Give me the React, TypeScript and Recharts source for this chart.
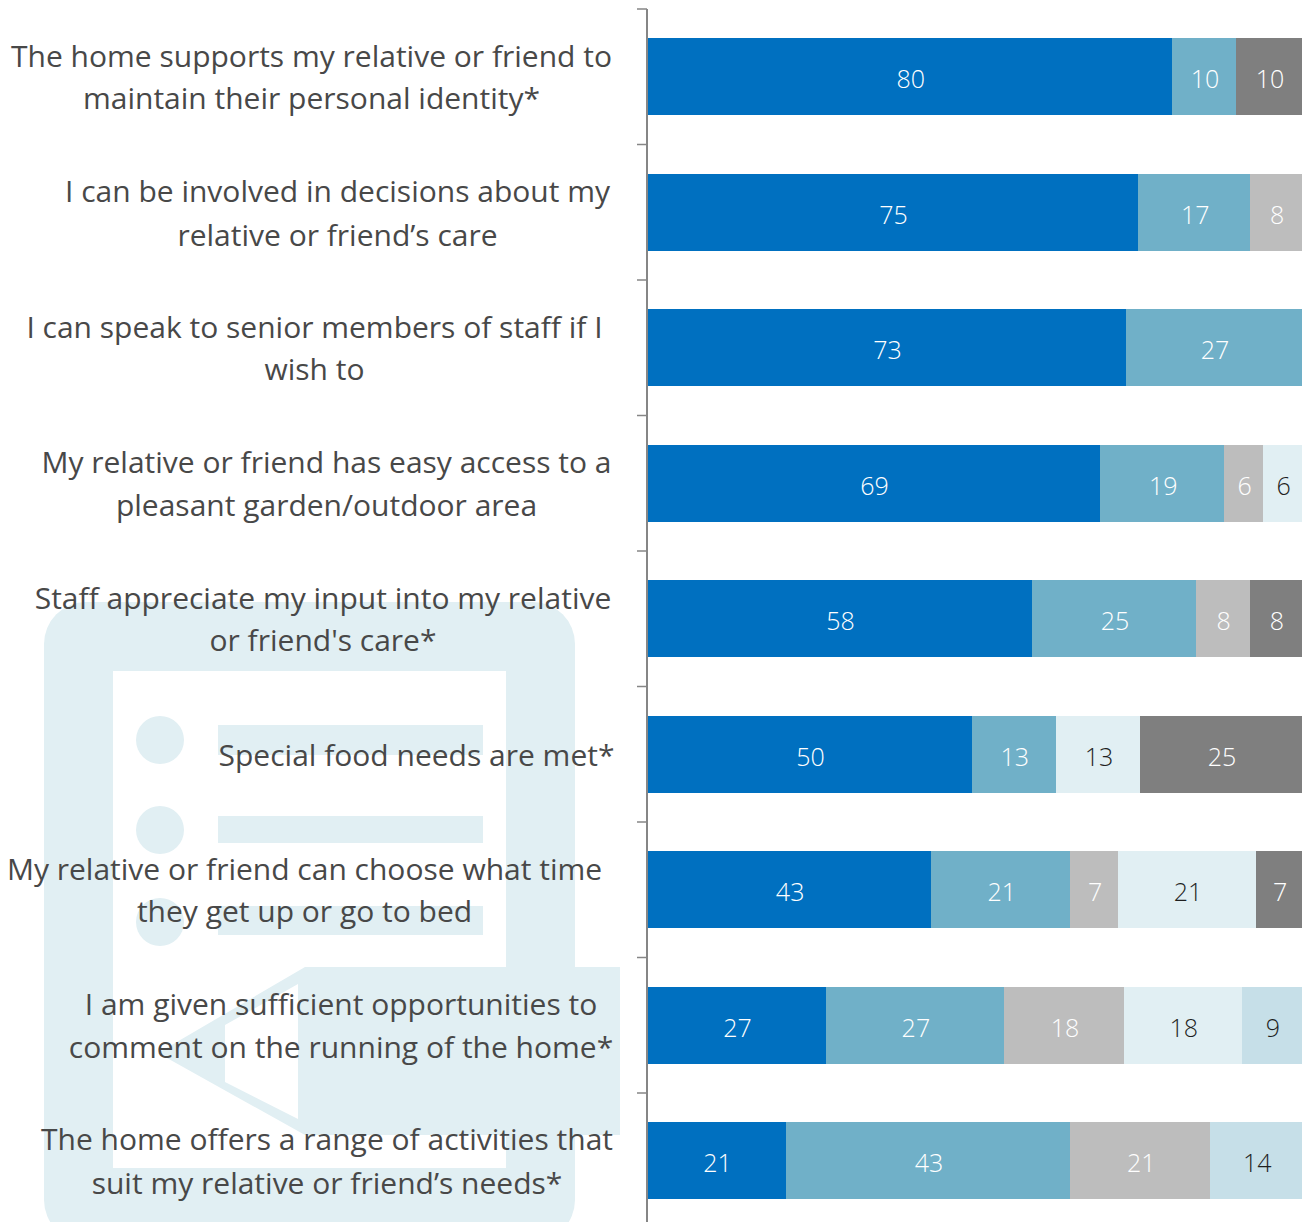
import React from "react";
import { BarChart, Bar, XAxis, YAxis, LabelList } from "recharts";

const statements = [
  "The home supports my relative or friend to\nmaintain their personal identity*",
  "I can be involved in decisions about my\nrelative or friend’s care",
  "I can speak to senior members of staff if I\nwish to",
  "My relative or friend has easy access to a\npleasant garden/outdoor area",
  "Staff appreciate my input into my relative\nor friend's care*",
  "Special food needs are met*",
  "My relative or friend can choose what time\nthey get up or go to bed",
  "I am given sufficient opportunities to\ncomment on the running of the home*",
  "The home offers a range of activities that\nsuit my relative or friend’s needs*",
];
const deepBlue = [80.2, 75, 73.1, 69.2, 58.8, 49.6, 43.4, 27.3, 21.2];
const deepBlueLabels = [80, 75, 73, 69, 58, 50, 43, 27, 21];
const midBlue = [9.7, 17.1, 26.9, 18.9, 25, 12.8, 21.2, 27.2, 43.4];
const lightGrey = [null, 7.9, null, 6, 8.2, null, 7.3, 18.3, 21.4];
const paleBlue = [null, null, null, 5.9, null, 12.9, 21.1, 18, null];
const softBlue = [null, null, null, null, null, null, null, 9.2, 14];
const darkGrey = [10.1, null, null, null, 8, 24.7, 7, null, null];

const labelCentres = [311.5, 337.5, 314.5, 326.5, 323, 416.5, 304.5, 341, 327];
const lineGaps = [42, 44, 42, 43, 42, 0, 42, 43, 44];

const rows = statements.map((statement, i) => ({
  statement,
  deepBlue: deepBlue[i],
  deepBlueLabel: deepBlueLabels[i],
  midBlue: midBlue[i],
  lightGrey: lightGrey[i],
  paleBlue: paleBlue[i],
  softBlue: softBlue[i],
  darkGrey: darkGrey[i],
}));

const series = [
  { key: "deepBlue", labelKey: "deepBlueLabel", fill: "#0070C0", text: "#FFFFFF" },
  { key: "midBlue", labelKey: "midBlue", fill: "#70B0C8", text: "#FFFFFF" },
  { key: "lightGrey", labelKey: "lightGrey", fill: "#BDBDBD", text: "#FFFFFF" },
  { key: "paleBlue", labelKey: "paleBlue", fill: "#E1EFF3", text: "#1F1F1F" },
  { key: "softBlue", labelKey: "softBlue", fill: "#C6DFE8", text: "#1F1F1F" },
  { key: "darkGrey", labelKey: "darkGrey", fill: "#7F7F7F", text: "#FFFFFF" },
];

const FONT = "'Open Sans', sans-serif";
const PALE = "#E1EFF3";
const AXIS = "#868686";
const BAND = 135.5;

const StatementTick = (props: any) => {
  const { x, y, payload, index } = props;
  const lines = String(payload.value).split("\n");
  const row = index ?? payload.index;
  const gap = lineGaps[row];
  return (
    <g>
      <line
        x1={x - 2}
        x2={x + 8}
        y1={y - BAND / 2}
        y2={y - BAND / 2}
        stroke={AXIS}
        strokeWidth={1.5}
      />
      {lines.map((line, i) => (
        <text
          key={i}
          x={labelCentres[row]}
          y={y + 0.5 + (i - (lines.length - 1) / 2) * gap}
          dy="0.36em"
          textAnchor="middle"
          fontFamily={FONT}
          fontSize={30}
          fontWeight={400}
          fill="#484848"
        >
          {line}
        </text>
      ))}
    </g>
  );
};

const Watermark = () => (
  <svg
    width={1309}
    height={1222}
    style={{ position: "absolute", left: 0, top: 0 }}
  >
    <rect x={44} y={602} width={531} height={640} rx={42} fill={PALE} />
    <rect x={113} y={671} width={393} height={497} fill="#FFFFFF" />
    <circle cx={160} cy={740} r={24} fill={PALE} />
    <circle cx={160} cy={830} r={24} fill={PALE} />
    <circle cx={160} cy={922} r={24} fill={PALE} />
    <rect x={218} y={725} width={265} height={30} fill={PALE} />
    <rect x={218} y={816} width={265} height={27} fill={PALE} />
    <rect x={218} y={906} width={265} height={29} fill={PALE} />
    <polygon points="305,967 620,967 620,1135 305,1135 158,1053" fill={PALE} />
    <polygon points="298,984 225,1025 225,1082 298,1119" fill="#FFFFFF" />
  </svg>
);

export default function App() {
  return (
    <div
      style={{
        position: "absolute",
        left: 0,
        top: 0,
        width: 1309,
        height: 1222,
        overflow: "hidden",
        background: "#FFFFFF",
      }}
    >
      <Watermark />
      <div style={{ position: "absolute", left: 0, top: 0 }}>
        <BarChart
          width={1309}
          height={1240}
          data={rows}
          layout="vertical"
          barSize={77}
          barCategoryGap={0}
          margin={{ top: 9, right: 7, bottom: 11.5, left: 0 }}
        >
          <XAxis type="number" domain={[0, 100]} hide />
          <YAxis
            type="category"
            dataKey="statement"
            width={647}
            axisLine={{ stroke: AXIS, strokeWidth: 2 }}
            tickLine={false}
            tick={<StatementTick />}
            interval={0}
          />
          {series.map((s) => (
            <Bar
              key={s.key}
              dataKey={s.key}
              stackId="share"
              fill={s.fill}
              shapeRendering="crispEdges"
              isAnimationActive={false}
            >
              <LabelList
                dataKey={s.labelKey}
                position="center"
                fill={s.text}
                fontFamily={FONT}
                fontSize={25}
                fontWeight={300}
                dx={1}
                dy={3}
                formatter={(v: any) => (v == null ? "" : Math.round(Number(v)))}
              />
            </Bar>
          ))}
        </BarChart>
      </div>
    </div>
  );
}
